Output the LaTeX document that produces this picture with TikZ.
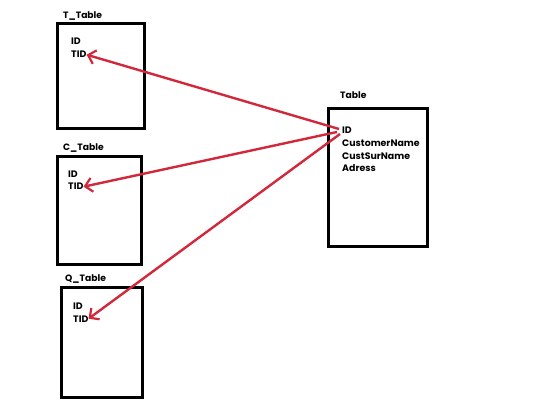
\documentclass[tikz,border=0pt]{standalone}
\usepackage{fontspec}
\setmainfont{Poppins}
\usetikzlibrary{arrows.meta}
\definecolor{arr}{HTML}{D2283C}
\begin{document}
\begin{tikzpicture}[x=1pt,y=-1pt,
  tbl/.style={draw=black,line width=3pt,fill=none,inner sep=0pt},
  lbl/.style={anchor=base west,font=\fontsize{9.2}{10}\selectfont\bfseries,inner sep=0pt},
  fld/.style={anchor=base west,font=\fontsize{9.4}{10}\selectfont\bfseries,inner sep=0pt},
  link/.style={draw=arr,line width=2.4pt,-{Straight Barb[length=7pt,width=14pt,line width=2.2pt]}}]
\useasboundingbox (0,0) rectangle (540,419);
% boxes
\draw[tbl] (57,24) rectangle (144,129);
\draw[tbl] (57,157) rectangle (141,265);
\draw[tbl] (61,287) rectangle (142,397);
\draw[tbl] (328,109) rectangle (427,247);
% labels
\node[lbl] (lt) at (63,19) {T\_Table};
\node[lbl] (lc) at (63,151) {C\_Table};
\node[lbl] (lq) at (65,281) {Q\_Table};
\node[lbl] (ll) at (340,99) {Table};
% fields
\node[fld] (tid1) at (71,45) {ID};
\node[fld] (ttid) at (71,58) {TID};
\node[fld] (cid1) at (68,178) {ID};
\node[fld] (ctid) at (68,190) {TID};
\node[fld] (qid1) at (73,309) {ID};
\node[fld] (qtid) at (73,322) {TID};
\node[fld] (mid) at (342,134) {ID};
\node[fld] (mcn) at (342,147) {CustomerName};
\node[fld] (mcs) at (342,160) {CustSurName};
\node[fld] (mad) at (342,172) {Adress};
% connectors
\coordinate (o1) at (339,129);
\coordinate (o2) at (337,132);
\coordinate (o3) at (340,134);
\draw[link] (o1) -- (ttid.east);
\draw[link] (o2) -- (ctid.east);
\draw[link] (o3) -- (qtid.east);
\end{tikzpicture}
\end{document}
